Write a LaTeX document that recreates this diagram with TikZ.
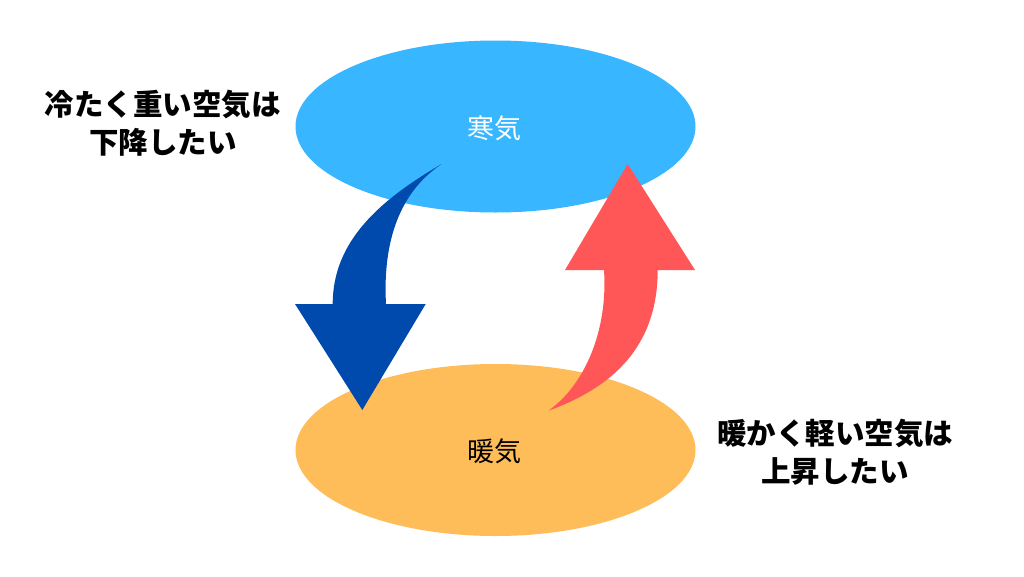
\documentclass[tikz,border=0pt]{standalone}
\usepackage{fontspec}
\usetikzlibrary{shapes.geometric}
\newfontfamily\jpfont{Noto Sans CJK JP}
\definecolor{coldair}{HTML}{38B6FF}
\definecolor{warmair}{HTML}{FFBD59}
\definecolor{downblue}{HTML}{004AAD}
\definecolor{upred}{HTML}{FF5757}
\tikzset{
  airmass/.style={ellipse, minimum width=400pt, minimum height=172pt, inner sep=0pt, draw=none},
  airtext/.style={font=\jpfont\fontsize{27}{32}\selectfont},
  labeltext/.style={align=center, font=\jpfont\bfseries\fontsize{29.5}{37.5}\selectfont},
}
\begin{document}
\begin{tikzpicture}[x=1pt,y=-1pt]
\useasboundingbox[fill=white] (0,0) rectangle (1024,576);
% air masses
\node[airmass, fill=coldair] (cold) at (495.5,126.5) {};
\node[airmass, fill=warmair] (warm) at (495.5,450) {};
% blue descending arrow
\coordinate (btail) at (441.7,164);
\coordinate (btip) at (362.3,410);
\fill[downblue] (btail) .. controls (381.7,199) and (332.7,240) .. (332.7,304)
  -- (295,304) -- (btip) -- (425.7,304) -- (386,304)
  .. controls (383,250) and (395,195) .. (btail) -- cycle;
% red rising arrow
\coordinate (rtail) at (548.3,410.7);
\coordinate (rtip) at (627.7,164);
\fill[upred] (rtail) .. controls (585,385) and (608,330) .. (604,270)
  -- (565,270) -- (rtip) -- (695,270) -- (657.7,270)
  .. controls (657.7,340) and (620,385) .. (rtail) -- cycle;
% texts
\node[airtext, text=white] (coldlabel) at (494,128) {寒気};
\node[airtext, text=black] (warmlabel) at (494,451) {暖気};
\node[labeltext] (sinklabel) at (162.8,123.4) {冷たく重い空気は\\下降したい};
\node[labeltext] (riselabel) at (835,452.3) {暖かく軽い空気は\\上昇したい};
\end{tikzpicture}
\end{document}
